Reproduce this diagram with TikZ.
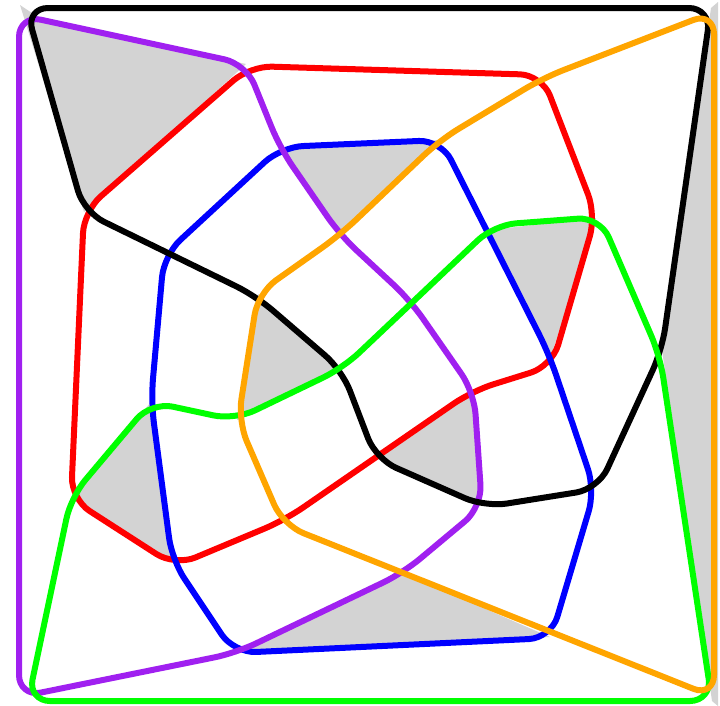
\documentclass[tikz,border=0pt]{standalone}
\definecolor{vpurple}{RGB}{160,32,240}
\definecolor{vorange}{RGB}{255,165,0}
\definecolor{cellgray}{RGB}{211,211,211}
\begin{document}
\begin{tikzpicture}[x=1pt, y=-1pt,
    curve/.style={line width=6pt, rounded corners=22pt, line join=round},
    cell/.style={fill=cellgray}]
    \useasboundingbox (0,0) rectangle (720,705);

    % Shaded cells
    \fill[cell] (20,5) -- (32,13) -- (46,21) -- (246,64) -- (84,212) -- (26,24) -- cycle;
    \fill[cell] (718,2) -- (711,8) -- (662,350) -- (712,701) -- (718,706) -- cycle;
    \foreach \ax/\ay/\bx/\by/\cx/\cy in {281/148/440/140/340/235, 489/230/596/218/551/356,
                          258/294/342/369/237/420, 375/458/473/391/482/506,
                          71/498/151/402/173/561, 236/653/403/573/550/637} {
        \fill[cell] (\ax,\ay) -- (\bx,\by) -- (\cx,\cy) -- cycle;
    }

    % Curves
    \draw[curve, red] (250,66) -- (542,75) -- (596,215) -- (552,366) -- (472,391)
        -- (285,520) -- (175,566) -- (71,499) -- (84,211) -- cycle;
    \draw[curve, blue] (281,147) -- (441,140) -- (549,354) -- (595,490) -- (551,638)
        -- (234,653) -- (172,560) -- (151,401) -- (164,255) -- cycle;
    \draw[curve, vpurple] (19,15) -- (246,64) -- (280,148) -- (340,235) -- (410,300)
        -- (474,392) -- (482,507) -- (403,573) -- (236,653) -- (19,697) -- cycle;
    \draw[curve, black] (26,8) -- (711,8) -- (662,350) -- (598,489) -- (485,507)
        -- (376,459) -- (342,370) -- (256,296) -- (84,212) -- cycle;
    \draw[curve, green] (28,701) -- (71,497) -- (151,402) -- (235,420) -- (343,368)
        -- (494,225) -- (600,217) -- (660,356) -- (712,701) -- cycle;
    \draw[curve, vorange] (714,12) -- (714,697) -- (283,525) -- (238,421) -- (258,293)
        -- (340,235) -- (440,140) -- (543,78) -- cycle;
\end{tikzpicture}
\end{document}
